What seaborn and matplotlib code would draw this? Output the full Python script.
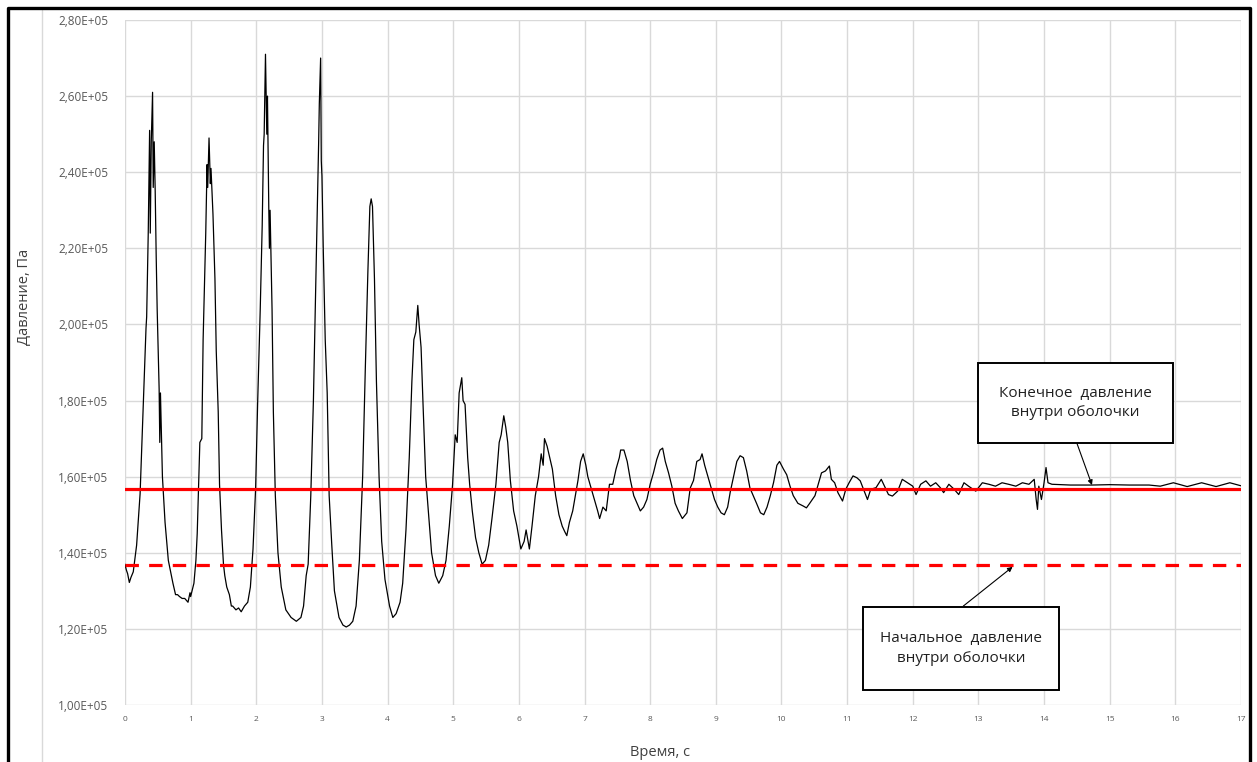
import numpy as np
import pandas as pd
import matplotlib
matplotlib.use('Agg')
import matplotlib.pyplot as plt
import seaborn as sns
from matplotlib.lines import Line2D
from matplotlib.patches import Rectangle
from matplotlib.ticker import FuncFormatter, MultipleLocator

# Pressure trace: time, s  /  pressure, 1e5 Pa
time_s = [
    0.00, 0.02, 0.04, 0.066, 0.09, 0.126, 0.177, 0.23, 0.28, 0.32, 0.33, 0.354,
    0.375, 0.385, 0.40, 0.42, 0.43, 0.445, 0.46, 0.475, 0.49, 0.52, 0.53, 0.54,
    0.57, 0.61, 0.66, 0.73, 0.77, 0.80, 0.83, 0.87, 0.91, 0.96, 0.99, 1.00,
    1.05, 1.08, 1.10, 1.14, 1.17, 1.19, 1.23, 1.25, 1.26, 1.28, 1.30, 1.31,
    1.34, 1.37, 1.39, 1.42, 1.44, 1.47, 1.49, 1.50, 1.52, 1.55, 1.59, 1.62,
    1.64, 1.69, 1.73, 1.77, 1.82, 1.87, 1.91, 1.95, 1.99, 2.02, 2.06, 2.09,
    2.11, 2.12, 2.14, 2.15, 2.16, 2.17, 2.19, 2.20, 2.21, 2.24, 2.26, 2.29,
    2.33, 2.38, 2.45, 2.53, 2.61, 2.68, 2.72, 2.76, 2.79, 2.83, 2.87, 2.91,
    2.95, 2.96, 2.98, 2.99, 3.00, 3.02, 3.05, 3.08, 3.09, 3.11, 3.15, 3.19,
    3.26, 3.32, 3.37, 3.42, 3.47, 3.52, 3.57, 3.62, 3.66, 3.70, 3.73, 3.75,
    3.77, 3.80, 3.83, 3.87, 3.91, 3.96, 4.03, 4.08, 4.13, 4.19, 4.23, 4.28,
    4.33, 4.37, 4.40, 4.43, 4.46, 4.48, 4.51, 4.54, 4.58, 4.62, 4.67, 4.73,
    4.78, 4.84, 4.89, 4.94, 4.99, 5.03, 5.06, 5.09, 5.13, 5.15, 5.18, 5.22,
    5.25, 5.29, 5.34, 5.39, 5.44, 5.49, 5.54, 5.59, 5.65, 5.70, 5.73, 5.77,
    5.80, 5.83, 5.87, 5.92, 5.97, 6.03, 6.08, 6.11, 6.16, 6.20, 6.25, 6.30,
    6.34, 6.37, 6.39, 6.43, 6.51, 6.56, 6.61, 6.66, 6.70, 6.73, 6.77, 6.82,
    6.87, 6.90, 6.94, 6.98, 7.02, 7.05, 7.10, 7.15, 7.20, 7.23, 7.28, 7.33,
    7.38, 7.43, 7.48, 7.53, 7.55, 7.60, 7.65, 7.70, 7.75, 7.80, 7.85, 7.90,
    7.95, 8.00, 8.05, 8.10, 8.15, 8.19, 8.23, 8.28, 8.33, 8.38, 8.43, 8.49,
    8.56, 8.61, 8.66, 8.71, 8.76, 8.79, 8.83, 8.88, 8.93, 8.98, 9.03, 9.08,
    9.13, 9.18, 9.22, 9.27, 9.32, 9.37, 9.42, 9.47, 9.52, 9.57, 9.62, 9.68,
    9.73, 9.78, 9.83, 9.88, 9.93, 9.97, 10.03, 10.08, 10.13, 10.18, 10.25, 10.33,
    10.38, 10.43, 10.51, 10.56, 10.61, 10.67, 10.73, 10.76, 10.81, 10.86, 10.93, 10.98,
    11.03, 11.09, 11.15, 11.20, 11.25, 11.31, 11.36, 11.44, 11.52, 11.57, 11.63, 11.69,
    11.77, 11.84, 11.92, 12.00, 12.05, 12.12, 12.20, 12.27, 12.35, 12.42, 12.47, 12.55,
    12.63, 12.70, 12.78, 12.85, 12.96, 13.06, 13.16, 13.26, 13.36, 13.46, 13.57, 13.67,
    13.77, 13.85, 13.88, 13.90, 13.92, 13.96, 14.00, 14.03, 14.06, 14.12, 14.40, 14.73,
    15.00, 15.30, 15.60, 15.77, 15.97, 16.18, 16.40, 16.62, 16.83, 17.00,
]
pressure = [
    1.370, 1.355, 1.345, 1.322, 1.335, 1.350, 1.420, 1.555, 1.800, 1.990, 2.020, 2.240,
    2.510, 2.240, 2.480, 2.610, 2.360, 2.480, 2.350, 2.180, 2.040, 1.830, 1.690, 1.820,
    1.600, 1.480, 1.380, 1.320, 1.290, 1.290, 1.285, 1.280, 1.280, 1.270, 1.295, 1.285,
    1.320, 1.380, 1.450, 1.690, 1.700, 1.960, 2.240, 2.420, 2.360, 2.490, 2.370, 2.410,
    2.290, 2.120, 1.930, 1.770, 1.580, 1.460, 1.400, 1.370, 1.340, 1.310, 1.290, 1.260,
    1.260, 1.250, 1.255, 1.245, 1.260, 1.270, 1.310, 1.410, 1.570, 1.790, 2.040, 2.260,
    2.470, 2.500, 2.710, 2.600, 2.500, 2.600, 2.310, 2.200, 2.300, 2.040, 1.770, 1.550,
    1.400, 1.310, 1.250, 1.230, 1.220, 1.230, 1.260, 1.340, 1.370, 1.550, 1.800, 2.140,
    2.480, 2.580, 2.700, 2.430, 2.390, 2.200, 1.960, 1.820, 1.730, 1.550, 1.420, 1.300,
    1.230, 1.210, 1.205, 1.210, 1.220, 1.260, 1.380, 1.600, 1.880, 2.140, 2.310, 2.330,
    2.310, 2.120, 1.850, 1.600, 1.430, 1.330, 1.260, 1.230, 1.240, 1.270, 1.320, 1.460,
    1.650, 1.850, 1.960, 1.980, 2.050, 2.000, 1.940, 1.790, 1.600, 1.510, 1.400, 1.340,
    1.320, 1.340, 1.380, 1.470, 1.580, 1.710, 1.690, 1.820, 1.860, 1.800, 1.790, 1.650,
    1.580, 1.510, 1.440, 1.400, 1.370, 1.380, 1.420, 1.490, 1.580, 1.690, 1.710, 1.760,
    1.730, 1.690, 1.590, 1.510, 1.470, 1.410, 1.430, 1.460, 1.410, 1.470, 1.550, 1.600,
    1.660, 1.630, 1.700, 1.680, 1.620, 1.550, 1.500, 1.470, 1.455, 1.445, 1.480, 1.510,
    1.560, 1.590, 1.640, 1.660, 1.630, 1.600, 1.570, 1.540, 1.510, 1.490, 1.520, 1.510,
    1.580, 1.580, 1.620, 1.650, 1.670, 1.670, 1.640, 1.590, 1.550, 1.530, 1.510, 1.520,
    1.540, 1.580, 1.610, 1.645, 1.670, 1.675, 1.640, 1.610, 1.575, 1.530, 1.510, 1.490,
    1.505, 1.570, 1.590, 1.640, 1.645, 1.660, 1.630, 1.600, 1.570, 1.540, 1.520, 1.505,
    1.500, 1.520, 1.560, 1.600, 1.640, 1.655, 1.650, 1.615, 1.570, 1.550, 1.530, 1.505,
    1.500, 1.520, 1.550, 1.585, 1.630, 1.640, 1.620, 1.605, 1.575, 1.550, 1.530, 1.523,
    1.518, 1.530, 1.550, 1.580, 1.610, 1.615, 1.628, 1.593, 1.584, 1.558, 1.536, 1.567,
    1.584, 1.602, 1.597, 1.589, 1.567, 1.540, 1.567, 1.571, 1.593, 1.575, 1.553, 1.549,
    1.562, 1.593, 1.584, 1.575, 1.553, 1.580, 1.589, 1.575, 1.584, 1.571, 1.558, 1.580,
    1.567, 1.553, 1.584, 1.575, 1.562, 1.584, 1.580, 1.575, 1.584, 1.580, 1.575, 1.584,
    1.580, 1.593, 1.540, 1.514, 1.575, 1.540, 1.584, 1.624, 1.584, 1.580, 1.578, 1.578,
    1.579, 1.578, 1.578, 1.575, 1.584, 1.574, 1.584, 1.574, 1.584, 1.576,
]

# reference levels, Pa
p_final = 1.568e5
p_initial = 1.368e5

x_ticks = list(range(0, 18))
y_ticks = [1.0e5, 1.2e5, 1.4e5, 1.6e5, 1.8e5, 2.0e5, 2.2e5, 2.4e5, 2.6e5, 2.8e5]

df = pd.DataFrame({'t': time_s, 'p': np.array(pressure) * 1e5})

sns.set_theme(style='white')
plt.rcParams['font.family'] = ['Open Sans', 'DejaVu Sans']

W, H = 1257, 762
fig = plt.figure(figsize=(W / 100, H / 100), dpi=100)
ax = fig.add_axes([125 / W, 1 - 705 / H, (1241 - 125) / W, (705 - 20) / H])

sns.lineplot(data=df, x='t', y='p', ax=ax, color='black', lw=0.9,
             estimator=None, sort=False, zorder=3)
ax.axhline(p_final, color='#ff0000', lw=2.3, zorder=4)
ax.axhline(p_initial, color='#ff0000', lw=2.3, dashes=(4.2, 3.2), zorder=4)

ax.set_xlim(0, 17)
ax.set_ylim(1.0e5, 2.8e5)
ax.set_xticks(x_ticks)
ax.set_yticks(y_ticks)
ax.yaxis.set_major_formatter(FuncFormatter(lambda v, _: f'{v:.2E}'.replace('.', ',')))
ax.grid(True, color='#d9d9d9', lw=1.0)
for s in ax.spines.values():
    s.set_visible(False)
ax.tick_params(axis='y', length=0, pad=12, labelsize=8.5, labelcolor='#595959')
ax.tick_params(axis='x', length=0, pad=8, labelsize=6, labelcolor='#595959')
ax.set_xlabel('')
ax.set_ylabel('')

fig.text(25 / W, 1 - 297 / H, 'Давление, Па', rotation=90, ha='center', va='center',
         fontsize=10.5, color='#404040')
fig.text(660 / W, 1 - 753 / H, 'Время, с', ha='center', va='center',
         fontsize=10.5, color='#404040')

# callout boxes
def callout(x0, y0, x1, y1, text):
    fig.add_artist(Rectangle((x0 / W, 1 - y1 / H), (x1 - x0) / W, (y1 - y0) / H,
                             transform=fig.transFigure, facecolor='white',
                             edgecolor='black', lw=1.4, zorder=10))
    fig.text((x0 + x1) / 2 / W, 1 - (y0 + y1) / 2 / H, text, ha='center', va='center',
             fontsize=11, color='#202020', linespacing=1.45, zorder=11)

callout(978, 363, 1173, 443, 'Конечное  давление\nвнутри оболочки')
callout(863, 607, 1059, 690, 'Начальное  давление\nвнутри оболочки')

ax.annotate('', xy=(14.73, 1.578e5), xytext=(14.50, 1.688e5),
            arrowprops=dict(arrowstyle='-|>', color='black', lw=0.8,
                            mutation_scale=7, shrinkA=0, shrinkB=0), zorder=6)
ax.annotate('', xy=(13.52, 1.363e5), xytext=(12.77, 1.260e5),
            arrowprops=dict(arrowstyle='-|>', color='black', lw=0.8,
                            mutation_scale=7, shrinkA=0, shrinkB=0), zorder=6)

# outer frame of the sheet
fig.add_artist(Line2D([42 / W, 42 / W], [0, 1 - 10 / H], transform=fig.transFigure,
                      color='#d9d9d9', lw=1.0))
fig.add_artist(Line2D([8 / W, 8 / W, 1250 / W, 1250 / W], [0, 1 - 8 / H, 1 - 8 / H, 0],
                      transform=fig.transFigure, color='black', lw=2.4))

fig.savefig('out.png', dpi=100)
